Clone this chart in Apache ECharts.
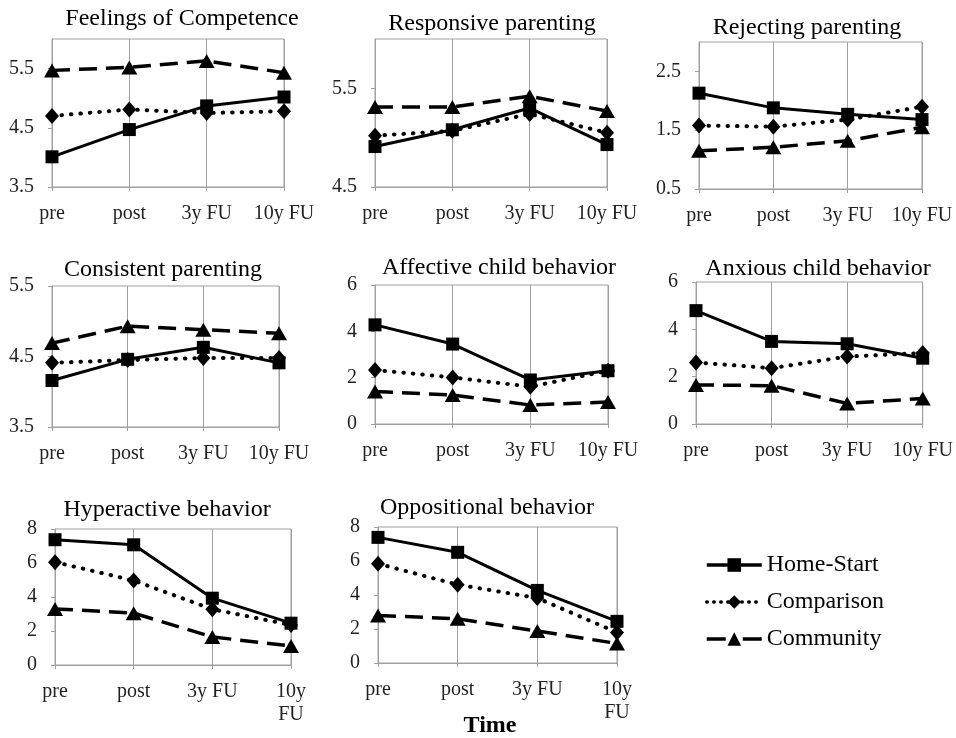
<!DOCTYPE html>
<html>
<head>
<meta charset="utf-8">
<script src="https://cdn.jsdelivr.net/npm/echarts@6/dist/echarts.min.js"></script>
<style>html,body{margin:0;padding:0;background:#fff}#c{width:956px;height:738px}</style>
</head>
<body>
<div id="c"></div>
<script>
var categories = ['pre', 'post', '3y FU', '10y FU'];
var bottomRowLabels = ['pre', 'post', '3y FU', '10y\nFU'];
var panelTitles = ['Feelings of Competence', 'Responsive parenting', 'Rejecting parenting',
  'Consistent parenting', 'Affective child behavior', 'Anxious child behavior',
  'Hyperactive behavior', 'Oppositional behavior'];
var seriesNames = ['Home-Start', 'Comparison', 'Community'];
var homeStart = [
  [4.01, 4.47, 4.87, 5.02],
  [4.91, 5.08, 5.30, 4.93],
  [2.13, 1.88, 1.77, 1.68],
  [4.16, 4.46, 4.63, 4.41],
  [4.28, 3.45, 1.90, 2.30],
  [4.79, 3.49, 3.39, 2.78],
  [7.37, 7.07, 3.93, 2.46],
  [7.39, 6.51, 4.27, 2.45]
];
var comparison = [
  [4.70, 4.81, 4.75, 4.78],
  [5.02, 5.07, 5.24, 5.05],
  [1.58, 1.56, 1.68, 1.90],
  [4.41, 4.45, 4.48, 4.48],
  [2.33, 2.01, 1.61, 2.30],
  [2.60, 2.36, 2.85, 3.00],
  [6.05, 4.97, 3.28, 2.36],
  [5.84, 4.61, 3.82, 1.80]
];
var community = [
  [5.47, 5.52, 5.63, 5.43],
  [5.31, 5.31, 5.42, 5.27],
  [1.15, 1.21, 1.32, 1.55],
  [4.69, 4.93, 4.88, 4.83],
  [1.40, 1.25, 0.82, 0.95],
  [1.65, 1.62, 0.87, 1.08],
  [3.30, 3.05, 1.65, 1.12],
  [2.80, 2.60, 1.88, 1.15]
];
var yMin = [3.5, 4.5, 0.5, 3.5, 0, 0, 0, 0];
var yMax = [6, 6, 3, 5.5, 6, 6, 8, 8];
var yInterval = [1, 1, 1, 1, 2, 2, 2, 2];
var axisTitle = 'Time';

var FONT = "'Liberation Serif', 'Times New Roman', serif";
var GRAY = '#a0a0a0';
var TXT = '#231f20';

var gridRects = [
  {left: 52, top: 39, width: 232, height: 148},
  {left: 375, top: 39, width: 232, height: 148},
  {left: 699, top: 42, width: 223, height: 147},
  {left: 52, top: 286, width: 227, height: 141},
  {left: 375, top: 285, width: 233, height: 139},
  {left: 696, top: 282, width: 227, height: 142},
  {left: 55, top: 529, width: 236, height: 136},
  {left: 378, top: 527, width: 239, height: 136}
];
var titlePos = [[182, 19], [492, 24], [807, 28], [163, 270], [499, 268], [818, 269], [167, 510], [487, 508]];

var grids = [], xAxes = [], yAxes = [], series = [], graphics = [];
var styles = [
  {symbol: 'rect', symbolSize: 13, lineStyle: {color: '#000', width: 3, type: 'solid'}},
  {symbol: 'diamond', symbolSize: [14, 16], lineStyle: {color: '#000', width: 4, type: [0.5, 9], cap: 'round'}},
  {symbol: 'triangle', symbolSize: [16, 14], lineStyle: {color: '#000', width: 3.5, type: [18, 9]}}
];
var legendLine = [
  {color: '#000', width: 3.5, type: 'solid'},
  {color: '#000', width: 3.5, type: [0.5, 6.5], cap: 'round'},
  {color: '#000', width: 3.5, type: [19, 17]}
];
var groups = [homeStart, comparison, community];

for (var i = 0; i < 8; i++) {
  var g = gridRects[i];
  grids.push({left: g.left, top: g.top, width: g.width, height: g.height, show: true,
    borderColor: GRAY, borderWidth: 1, containLabel: false});
  var labels = i >= 6 ? bottomRowLabels : categories;
  xAxes.push({
    type: 'category', gridIndex: i, data: labels, boundaryGap: false,
    axisLine: {lineStyle: {color: GRAY, width: 1}},
    axisTick: {show: true, length: 4, lineStyle: {color: GRAY}},
    axisLabel: {color: TXT, fontFamily: FONT, fontSize: 20, margin: 15, lineHeight: 23, interval: 0},
    splitLine: {show: true, lineStyle: {color: GRAY, width: 1}}
  });
  var aligned = Math.abs(((yMax[i] - yMin[i]) / yInterval[i]) - Math.round((yMax[i] - yMin[i]) / yInterval[i])) < 1e-9;
  yAxes.push({
    type: 'value', gridIndex: i, min: yMin[i], max: yMax[i], interval: yInterval[i],
    axisLine: {show: true, lineStyle: {color: GRAY, width: 1}},
    axisTick: {show: true, length: 4, lineStyle: {color: GRAY}},
    axisLabel: {color: TXT, fontFamily: FONT, fontSize: 20, margin: 18, showMaxLabel: aligned, showMinLabel: true},
    splitLine: {show: false}
  });
  for (var s = 0; s < 3; s++) {
    series.push({
      name: seriesNames[s], type: 'line', xAxisIndex: i, yAxisIndex: i,
      data: groups[s][i], symbol: styles[s].symbol, symbolSize: styles[s].symbolSize,
      showAllSymbol: true, lineStyle: styles[s].lineStyle,
      itemStyle: {color: '#000', borderWidth: 0}, animation: false, silent: true, z: 2 + s
    });
  }
  graphics.push({type: 'text', x: titlePos[i][0], y: titlePos[i][1],
    style: {text: panelTitles[i], fill: '#000', font: '24px ' + FONT, textAlign: 'center', textVerticalAlign: 'middle'}});
}
graphics.push({type: 'text', x: 490, y: 726,
  style: {text: axisTitle, fill: '#000', font: 'bold 24px ' + FONT, textAlign: 'center', textVerticalAlign: 'middle'}});

var legendData = seriesNames.map(function (n, k) {
  return {name: n, lineStyle: legendLine[k]};
});

var chart = echarts.init(document.getElementById('c'), null, {renderer: 'canvas'});
chart.setOption({
  animation: false,
  backgroundColor: '#fff',
  grid: grids, xAxis: xAxes, yAxis: yAxes, series: series,
  legend: {
    data: legendData, orient: 'vertical', left: 705, top: 553, itemWidth: 55, itemHeight: 17,
    itemGap: 13, padding: 0, selectedMode: false,
    textStyle: {color: '#000', fontFamily: FONT, fontSize: 24}
  },
  graphic: graphics
});
</script>
</body>
</html>
